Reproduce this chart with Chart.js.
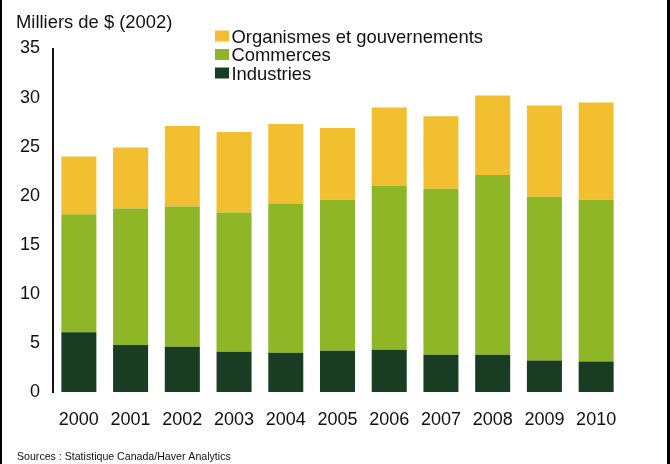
<!DOCTYPE html>
<html>
<head>
<meta charset="utf-8">
<script src="https://cdn.jsdelivr.net/npm/chart.js@4.4.1/dist/chart.umd.min.js"></script>
<style>
  html, body { margin: 0; padding: 0; background: #ffffff; }
  #wrap { position: relative; width: 670px; height: 464px; }
</style>
</head>
<body>
<div id="wrap"><canvas id="c" width="670" height="464"></canvas></div>
<script>
const years = ["2000","2001","2002","2003","2004","2005","2006","2007","2008","2009","2010"];
const industries = [6.1, 4.8, 4.6, 4.1, 4.0, 4.2, 4.3, 3.8, 3.8, 3.2, 3.1];
const commerces  = [12.0, 13.9, 14.3, 14.2, 15.2, 15.4, 16.7, 16.9, 18.3, 16.7, 16.5];
const organismes = [5.9, 6.2, 8.2, 8.2, 8.1, 7.3, 8.0, 7.4, 8.1, 9.3, 9.9];
const seriesNames = ["Industries", "Commerces", "Organismes et gouvernements"];
const seriesColors = ["#183D23", "#8EB626", "#F2BF30"];
const titleText = "Milliers de $ (2002)";
const sourceText = "Sources : Statistique Canada/Haver Analytics";
const FONT = '"Liberation Sans", Arial, sans-serif';

const decor = {
  id: 'decor',
  afterDraw(chart) {
    const ctx = chart.ctx;
    ctx.save();
    // frame lines
    ctx.fillStyle = '#000';
    ctx.fillRect(0, 0, 2, 464);
    ctx.fillRect(667, 0, 3, 464);
    // title
    ctx.fillStyle = '#111';
    ctx.font = '18.4px ' + FONT;
    ctx.textBaseline = 'alphabetic';
    ctx.textAlign = 'left';
    ctx.fillText(titleText, 16, 28);
    // legend (reverse order)
    const ds = chart.data.datasets;
    let row = 0;
    for (let i = ds.length - 1; i >= 0; i--) {
      const base = 42.5 + row * 18.5;
      ctx.fillStyle = ds[i].backgroundColor;
      ctx.fillRect(215, base - 12, 14, 11);
      ctx.fillStyle = '#111';
      ctx.fillText(ds[i].label, 231.5, base);
      row++;
    }
    // source
    ctx.font = '10.6px ' + FONT;
    ctx.fillText(sourceText, 17, 459.5);
    ctx.restore();
  }
};

new Chart(document.getElementById('c'), {
  type: 'bar',
  data: {
    labels: years,
    datasets: [
      { label: seriesNames[0], data: industries, backgroundColor: seriesColors[0] },
      { label: seriesNames[1], data: commerces,  backgroundColor: seriesColors[1] },
      { label: seriesNames[2], data: organismes, backgroundColor: seriesColors[2] }
    ]
  },
  options: {
    responsive: false,
    animation: false,
    devicePixelRatio: 1,
    layout: { padding: { left: 0, right: 48, top: 48.5, bottom: 0 } },
    datasets: { bar: { barPercentage: 0.677, categoryPercentage: 1.0, borderWidth: 0 } },
    plugins: { legend: { display: false }, title: { display: false }, tooltip: { enabled: false } },
    scales: {
      x: {
        stacked: true,
        grid: { display: false, drawTicks: false },
        border: { display: false },
        ticks: { color: '#111', font: { family: FONT, size: 18 }, padding: 17, maxRotation: 0 },
        afterFit(s) { s.height = 72; }
      },
      y: {
        stacked: true,
        min: 0, max: 35,
        grid: { display: false, drawTicks: false },
        border: { display: true, color: '#111', width: 2 },
        ticks: { stepSize: 5, color: '#111', font: { family: FONT, size: 18 }, padding: 13 },
        afterFit(s) { s.width = 53; }
      }
    }
  },
  plugins: [decor]
});
</script>
</body>
</html>
